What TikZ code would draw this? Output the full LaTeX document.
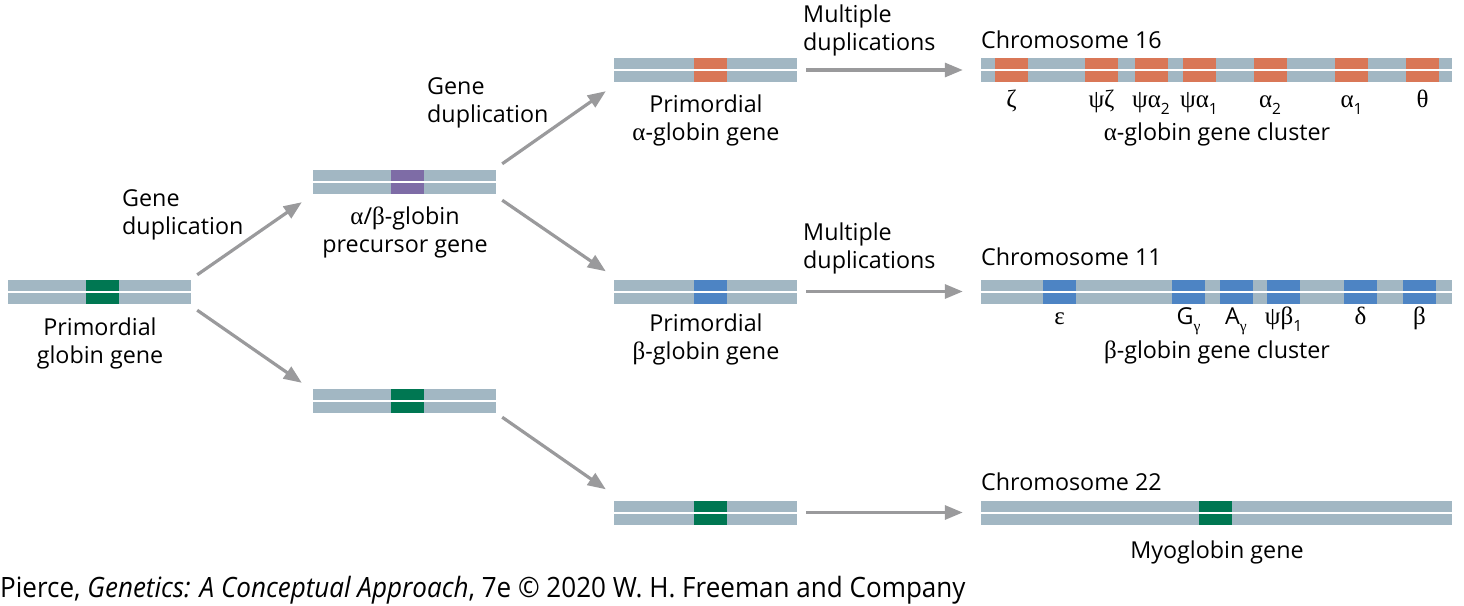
\documentclass[tikz,border=0pt]{standalone}
\usepackage{fontspec}
\setmainfont{Open Sans}
\newfontfamily\gkfont{Liberation Serif}
\usetikzlibrary{arrows.meta}
\definecolor{strandgray}{HTML}{A2B7C3}
\definecolor{alphaorange}{HTML}{D97757}
\definecolor{betablue}{HTML}{4D84C4}
\definecolor{globingreen}{HTML}{007752}
\definecolor{precursorpurple}{HTML}{7E6CA6}
\definecolor{arrowgray}{HTML}{9A9A9C}
\newcommand\gk[1]{{\gkfont\fontsize{25}{28}\selectfont #1}}
\newcommand\lowsub[1]{\raisebox{-0.3em}{\fontsize{15.5}{15.5}\selectfont #1}}
\tikzset{
	chromBox/.style={rectangle, fill=strandgray, minimum height=24pt, inner sep=0pt},
	shortBox/.style={chromBox, minimum width=183pt},
	longBox/.style={chromBox, minimum width=471pt},
	geneBox/.style={rectangle, fill=#1, minimum width=33pt, minimum height=24pt, inner sep=0pt},
	strandGap/.style={white, line width=2pt},
	txt/.style={font=\fontsize{23.3}{28}\selectfont, inner sep=0pt, anchor=base, align=center},
	leftTxt/.style={txt, anchor=base west, align=left},
	lblSixteen/.style={txt, yshift=-25pt},
	lblEleven/.style={txt, yshift=-21pt},
	dupArrow/.style={draw=arrowgray, line width=3.2pt, -{Triangle[length=18pt,width=14pt]}}
}
\begin{document}
\begin{tikzpicture}[x=1pt,y=-1pt]
		\useasboundingbox (0,0) rectangle (1464,605);

		\node[shortBox](primBox) at (99.5,292){};
		\node[geneBox=globingreen](primGene) at (102.5,292){};

		\node[shortBox](precBox) at (404.5,182){};
		\node[geneBox=precursorpurple](precGene) at (407.5,182){};
		\node[shortBox](greenBox) at (404.5,401){};
		\node[geneBox=globingreen](greenGene) at (407.5,401){};

		\node[shortBox](alphaBox) at (705.5,70){};
		\node[geneBox=alphaorange](alphaGene) at (710,70){};
		\node[shortBox](betaBox) at (705.5,291.5){};
		\node[geneBox=betablue](betaGene) at (710,291.5){};
		\node[shortBox](myoBox) at (705.5,512.5){};
		\node[geneBox=globingreen](myoGene) at (710,512.5){};

		\node[longBox](chr16Box) at (1216.5,70){};
		\node[geneBox=alphaorange, label={[lblSixteen]below:\gk{ζ}}](zetaBox) at (1011.5,70){};
		\node[geneBox=alphaorange, label={[lblSixteen]below:\gk{ψζ}}](psiZetaBox) at (1101.5,70){};
		\node[geneBox=alphaorange, label={[lblSixteen]below:\gk{ψα}\lowsub{2}}](psiAlpha2Box) at (1151,70){};
		\node[geneBox=alphaorange, label={[lblSixteen]below:\gk{ψα}\lowsub{1}}](psiAlpha1Box) at (1199,70){};
		\node[geneBox=alphaorange, label={[lblSixteen]below:\gk{α}\lowsub{2}}](alpha2Box) at (1270,70){};
		\node[geneBox=alphaorange, label={[lblSixteen]below:\gk{α}\lowsub{1}}](alpha1Box) at (1351.5,70){};
		\node[geneBox=alphaorange, label={[lblSixteen]below:\gk{θ}}](thetaBox) at (1422.5,70){};

		\node[longBox](chr11Box) at (1216.5,291.5){};
		\node[geneBox=betablue, label={[lblEleven]below:\gk{ε}}](epsBox) at (1059.5,291.5){};
		\node[geneBox=betablue, label={[lblEleven]below:G\lowsub{\gkfont γ}}](gGammaBox) at (1188.5,291.5){};
		\node[geneBox=betablue, label={[lblEleven]below:A\lowsub{\gkfont γ}}](aGammaBox) at (1236,291.5){};
		\node[geneBox=betablue, label={[lblEleven]below:\gk{ψβ}\lowsub{1}}](psiBeta1Box) at (1283.5,291.5){};
		\node[geneBox=betablue, label={[lblEleven]below:\gk{δ}}](deltaBox) at (1360.5,291.5){};
		\node[geneBox=betablue, label={[lblEleven]below:\gk{β}}](betaBox2) at (1419.5,291.5){};

		\node[longBox](chr22Box) at (1216.5,512.5){};
		\node[geneBox=globingreen](myoglobinBox) at (1215,512.5){};

		\draw[strandGap] (primBox.west) -- (primBox.east);
		\draw[strandGap] (precBox.west) -- (precBox.east);
		\draw[strandGap] (greenBox.west) -- (greenBox.east);
		\draw[strandGap] (alphaBox.west) -- (alphaBox.east);
		\draw[strandGap] (betaBox.west) -- (betaBox.east);
		\draw[strandGap] (myoBox.west) -- (myoBox.east);
		\draw[strandGap] (chr16Box.west) -- (chr16Box.east);
		\draw[strandGap] (chr11Box.west) -- (chr11Box.east);
		\draw[strandGap] (chr22Box.west) -- (chr22Box.east);

		\node[leftTxt](dup1Text) at (122,234){Gene\\duplication};
		\node[leftTxt](dup2Text) at (427,122){Gene\\duplication};
		\node[leftTxt](multi1Text) at (803,50){Multiple\\duplications};
		\node[leftTxt](multi2Text) at (803,268){Multiple\\duplications};
		\node[txt](primText) at (100,363){Primordial\\globin gene};
		\node[txt](precText) at (405,252){\gk{α}/\gk{β}-globin\\precursor gene};
		\node[txt](alphaText) at (706,140){Primordial\\\gk{α}-globin gene};
		\node[txt](betaText) at (706,359){Primordial\\\gk{β}-globin gene};
		\node[leftTxt](chr16Text) at (981,48){Chromosome 16};
		\node[leftTxt](chr11Text) at (981,265){Chromosome 11};
		\node[leftTxt](chr22Text) at (981,490){Chromosome 22};
		\node[txt](alphaClusterText) at (1217,140){\gk{α}-globin gene cluster};
		\node[txt](betaClusterText) at (1217,358){\gk{β}-globin gene cluster};
		\node[txt](myoText) at (1217,558){Myoglobin gene};
		\node[leftTxt, font=\fontsize{28}{30}\selectfont](creditText) at (0,597){\scalebox{0.93}[1]{Pierce, \textit{Genetics: A Conceptual Approach}, 7e © 2020 W. H. Freeman and Company}};

		\draw[dupArrow] ([shift={(6,-5)}]primBox.north east) -- ([shift={(-11,8)}]precBox.south west);
		\draw[dupArrow] ([shift={(6,6)}]primBox.south east) -- ([shift={(-11,-6)}]greenBox.north west);
		\draw[dupArrow] ([shift={(6,-6)}]precBox.north east) -- ([shift={(-8,9)}]alphaBox.south west);
		\draw[dupArrow] ([shift={(6,6)}]precBox.south east) -- ([shift={(-8,-8)}]betaBox.north west);
		\draw[dupArrow] ([shift={(6,4)}]greenBox.south east) -- ([shift={(-8,-11)}]myoBox.north west);
		\draw[dupArrow] ([shift={(9,0)}]alphaBox.east) -- ([shift={(-18,0)}]chr16Box.west);
		\draw[dupArrow] ([shift={(9,0)}]betaBox.east) -- ([shift={(-18,0)}]chr11Box.west);
		\draw[dupArrow] ([shift={(9,0)}]myoBox.east) -- ([shift={(-18,0)}]chr22Box.west);
\end{tikzpicture}
\end{document}
